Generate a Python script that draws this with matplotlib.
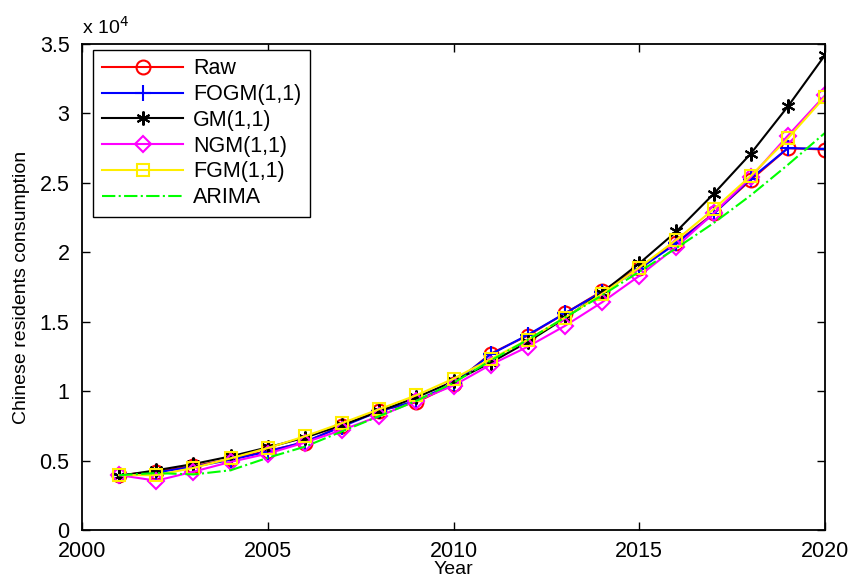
import numpy as np
import matplotlib
matplotlib.use("Agg")
from matplotlib import pyplot as plt

plt.rcParams['font.family'] = ['Liberation Sans', 'DejaVu Sans']

years = list(range(2001, 2021))

# values (units: yuan)
raw = [3950, 4200, 4600, 5100, 5700, 6300, 7500, 8600, 9200, 10500,
       12700, 14000, 15600, 17200, 18900, 20700, 22800, 25200, 27500, 27400]
fogm = [3950, 4150, 4550, 5050, 5650, 6350, 7450, 8550, 9300, 10550,
        12650, 14050, 15600, 17150, 18800, 20650, 22750, 25300, 27500, 27450]
gm = [3900, 4300, 4750, 5300, 5950, 6650, 7550, 8550, 9550, 10700,
      12050, 13550, 15250, 17100, 19200, 21500, 24200, 27100, 30500, 34200]
ngm = [3950, 3550, 4200, 4900, 5500, 6300, 7200, 8200, 9300, 10400,
       11900, 13200, 14700, 16400, 18300, 20400, 22800, 25400, 28400, 31300]
fgm = [3950, 3950, 4470, 5160, 5900, 6750, 7700, 8700, 9700, 10900,
       12300, 13700, 15300, 17000, 18900, 20900, 23100, 25500, 28200, 31200]
arima = [3950, 4100, 4000, 4300, 5200, 6000, 7100, 8200, 9300, 10600,
         12200, 13700, 15300, 16900, 18600, 20300, 22100, 24100, 26300, 28600]

asterisk = (6, 2, 0)
series = [
    (raw, '#ff0000', '-', 'o', 10, 'Raw'),
    (fogm, '#0000ff', '-', '+', 11, 'FOGM(1,1)'),
    (gm, '#000000', '-', asterisk, 10, 'GM(1,1)'),
    (ngm, '#ff00ff', '-', 'D', 8.5, 'NGM(1,1)'),
    (fgm, '#ffee00', '-', 's', 8.5, 'FGM(1,1)'),
    (arima, '#00ff00', '-.', None, 0, 'ARIMA'),
]

fig = plt.figure(figsize=(8.5, 5.76), dpi=100)
ax = fig.add_axes([0.0965, 0.0799, 0.8741, 0.8437])

for vals, col, ls, mk, ms, lab in series:
    ax.plot(years, np.array(vals) / 1e4, color=col, ls=ls, lw=1.5,
            marker=mk, ms=ms, mfc='none', mec=col, mew=1.5, label=lab)

ax.set_xlim(2000, 2020)
ax.set_ylim(0, 3.5)
ax.set_xticks(range(2000, 2021, 5))
ax.set_yticks(np.arange(0, 3.51, 0.5))
ax.set_yticklabels(['0', '0.5', '1', '1.5', '2', '2.5', '3', '3.5'])
ax.tick_params(direction='in', top=True, right=True, labelsize=15.5,
               length=6, width=1)
ax.tick_params(axis='y', pad=9)
ax.tick_params(axis='x', pad=8)
for sp in ax.spines.values():
    sp.set_linewidth(1.3)

ax.set_xlabel("Year", fontsize=14, labelpad=-1)
ax.set_ylabel("Chinese residents consumption", fontsize=14, labelpad=7)
ax.text(0.0, 1.012, r"x 10$^4$", transform=ax.transAxes, fontsize=14,
        ha='left', va='bottom')

leg = ax.legend(loc='upper left', bbox_to_anchor=(0.0148, 0.988), fontsize=15.5,
                fancybox=False, edgecolor='k', framealpha=1, handlelength=3.8,
                handletextpad=0.45, borderaxespad=0, labelspacing=0.22,
                borderpad=0.4)
leg.get_frame().set_linewidth(1.0)

plt.savefig("out.png", dpi=100)
